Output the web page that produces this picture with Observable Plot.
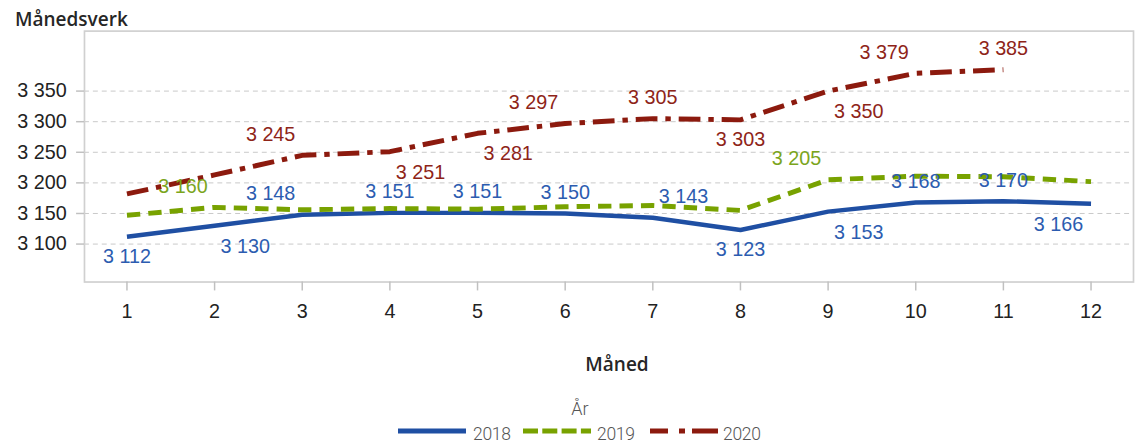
<!DOCTYPE html>
<html>
<head>
<meta charset="utf-8">
<script src="https://cdn.jsdelivr.net/npm/d3@7"></script>
<script src="https://cdn.jsdelivr.net/npm/@observablehq/plot@0.6"></script>
<style>
  html, body { margin: 0; padding: 0; background: #fff; overflow: hidden; }
  #wrap { position: relative; width: 1136px; height: 446px; overflow: hidden; }
  #chart { position: absolute; left: 0; top: 0; }
  .htxt { position: absolute; white-space: nowrap; line-height: 1; }
  #title { left: 15px; top: 6px; font: 600 19px "Open Sans", sans-serif; color: #262626; }
  #xlabel { left: 617px; top: 351px; transform: translateX(-50%); font: 600 19px "Open Sans", sans-serif; color: #262626; }
  #legtitle { left: 580px; top: 398px; transform: translateX(-50%); font: 300 18px "Roboto", sans-serif; color: #555; }
  .legtext { font: 300 17.5px "Roboto", sans-serif; color: #555; top: 424px; letter-spacing: -0.3px; }
  .sw { position: absolute; top: 421px; }
</style>
</head>
<body>
<div id="wrap">
  <div id="chart"></div>
  <div id="title" class="htxt">Månedsverk</div>
  <div id="xlabel" class="htxt">Måned</div>
  <div id="legtitle" class="htxt">År</div>
  <div id="legend"></div>
</div>
<script>
// ---- data ----
const months = [1, 2, 3, 4, 5, 6, 7, 8, 9, 10, 11, 12];
const years = ["2018", "2019", "2020"];
const values2018 = [3112, 3130, 3148, 3151, 3151, 3150, 3143, 3123, 3153, 3168, 3170, 3166];
const values2019 = [3147, 3160, 3156, 3158, 3157, 3161, 3163, 3155, 3205, 3211, 3210, 3202];
const values2020 = [3182, 3213, 3245, 3251, 3281, 3297, 3305, 3303, 3350, 3379, 3385];
// data label placement (compass side of the point, null = label not shown)
const labelSide2018 = ["S", "SE", "NW", "N", "N", "N", "NE", "S", "SE", "N", "N", "SW"];
const labelSide2019 = [null, "NW", null, null, null, null, null, null, "NW", null, null, null];
const labelSide2020 = [null, null, "NW", "SE", "SE", "NW", "N", "S", "SE", "NW", "N"];
const yTicks = [3100, 3150, 3200, 3250, 3300, 3350];

const lineColors = {"2018": "#1f4fa3", "2019": "#78a200", "2020": "#8c1a0e"};
const labelColors = {"2018": "#2c5cb0", "2019": "#7ba51c", "2020": "#8e2418"};
const dashes = {"2018": null, "2019": "13.5,8.2", "2020": "22,8,5.5,8"};
const widths = {"2018": 4.5, "2019": 5, "2020": 5};

const seriesValues = {"2018": values2018, "2019": values2019, "2020": values2020};
const seriesSides = {"2018": labelSide2018, "2019": labelSide2019, "2020": labelSide2020};

const rows = [];
for (const yr of years) {
  seriesValues[yr].forEach((v, i) => {
    rows.push({year: yr, month: months[i], value: v, side: seriesSides[yr][i]});
  });
}

const fmt = v => d3.format(",")(v).replace(/,/g, " ");

const offsets = {
  N: [0, -21], S: [0, 20], NW: [-32, -21], NE: [31, -21],
  SE: [31, 21], SW: [-33, 21]
};

const textMarks = [];
for (const yr of years) {
  for (const side of Object.keys(offsets)) {
    const sub = rows.filter(r => r.year === yr && r.side === side);
    if (!sub.length) continue;
    textMarks.push(Plot.text(sub, {
      x: "month", y: "value", text: d => fmt(d.value),
      dx: offsets[side][0], dy: offsets[side][1],
      fill: labelColors[yr], fontSize: 20, fontFamily: "Liberation Sans, Arial, sans-serif",
      textAnchor: "middle"
    }));
  }
}

const pad = 43 / 88.727;
const lineMarks = years.map(yr => Plot.line(rows.filter(r => r.year === yr), {
  x: "month", y: "value",
  stroke: lineColors[yr], strokeWidth: widths[yr],
  strokeDasharray: dashes[yr] || undefined,
  strokeLinejoin: "round", strokeLinecap: "butt"
}));

const chart = Plot.plot({
  width: 1150, height: 330,
  marginLeft: 85, marginRight: 3, marginTop: 31, marginBottom: 45,
  style: {fontFamily: "Liberation Sans, Arial, sans-serif", fontSize: "20px", color: "#222", background: "transparent"},
  x: {domain: [1 - pad, 12 + pad]},
  y: {domain: [3038, 3448]},
  marks: [
    Plot.ruleY(yTicks, {stroke: "#c8c8c8", strokeDasharray: "5,4", strokeWidth: 1}),
    Plot.frame({stroke: "#d0d0d0", strokeWidth: 1.7}),
    Plot.axisY({ticks: yTicks, tickSize: 8, tickPadding: 10, tickFormat: fmt, label: null, fontSize: 20}),
    Plot.axisX({ticks: months, tickSize: 9, tickPadding: 13, tickFormat: d => String(d), label: null, fontSize: 20}),
    ...lineMarks,
    ...textMarks
  ]
});
document.getElementById("chart").appendChild(chart);

// tick mark colour
chart.querySelectorAll('g[aria-label="y-axis tick"], g[aria-label="x-axis tick"]').forEach(g => {
  g.setAttribute("stroke", "#c0c0c0");
  g.setAttribute("stroke-width", "1.5");
});

// ---- legend ----
const legendItems = [
  {year: "2018", x: 398, tx: 473, dash: null},
  {year: "2019", x: 523, tx: 597, dash: "15,4.3"},
  {year: "2020", x: 650, tx: 723, dash: "18,11,6,7,27,100"}
];
const leg = document.getElementById("legend");
for (const it of legendItems) {
  const svg = d3.create("svg").attr("class", "sw").attr("width", 70).attr("height", 20)
    .style("left", it.x + "px");
  svg.append("line").attr("x1", 0).attr("x2", 68).attr("y1", 10).attr("y2", 10)
    .attr("stroke", lineColors[it.year]).attr("stroke-width", 5)
    .attr("stroke-dasharray", it.dash);
  leg.appendChild(svg.node());
  const t = document.createElement("div");
  t.className = "htxt legtext";
  t.style.left = it.tx + "px";
  t.textContent = it.year;
  leg.appendChild(t);
}
</script>
</body>
</html>
